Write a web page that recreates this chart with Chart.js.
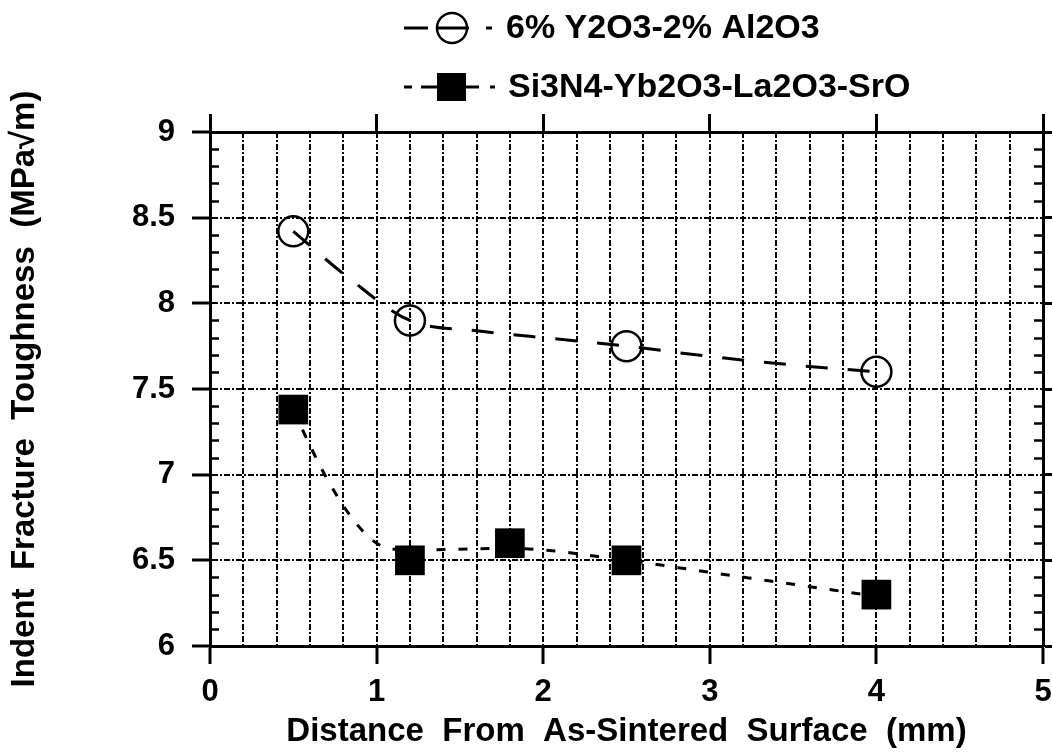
<!DOCTYPE html>
<html>
<head>
<meta charset="utf-8">
<script src="https://cdn.jsdelivr.net/npm/chart.js@4.4.0/dist/chart.umd.min.js"></script>
<style>
  html, body { margin: 0; padding: 0; background: #fff; }
</style>
</head>
<body>
<canvas id="myChart" width="1052" height="755"></canvas>
<script>
// measured toughness values
var distY2O3 = [0.5, 1.2, 2.5, 4.0];
var kY2O3 = [8.42, 7.90, 7.75, 7.60];
var distSrO = [0.5, 1.2, 1.8, 2.5, 4.0];
var kSrO = [7.38, 6.50, 6.60, 6.50, 6.30];

// dashed trend curves through the data
var fitY2O3X = [0.5, 0.83, 1.2, 1.6, 2.1, 2.5, 3.0, 3.5, 4.0];
var fitY2O3Y = [8.42, 8.15, 7.90, 7.84, 7.79, 7.75, 7.69, 7.64, 7.60];
var fitSrOX = [0.5, 0.6, 0.7, 0.85, 1.0, 1.2, 1.8, 2.5, 3.0, 3.5, 4.0];
var fitSrOY = [7.38, 7.17, 6.98, 6.75, 6.60, 6.56, 6.57, 6.50, 6.43, 6.36, 6.29];

var seriesNames = ['6% Y2O3-2% Al2O3', 'Si3N4-Yb2O3-La2O3-SrO'];

var xMin = 0, xMax = 5, xGridStep = 0.2, xLabelStep = 1;
var yMin = 6, yMax = 9, yStep = 0.5, yMinorStep = 0.1;

var FONT = '"Liberation Sans", Arial, Helvetica, sans-serif';
var GRID_DASH = [6, 2, 2, 2];

function pts(xs, ys) {
    return xs.map(function (x, i) { return { x: x, y: ys[i] }; });
}

function isWhole(v) {
    return Math.abs(v - Math.round(v)) < 1e-6;
}

// small inward ticks on both y borders
var minorTicks = {
    id: 'minorTicks',
    beforeDatasetsDraw: function (chart) {
        var ctx = chart.ctx, a = chart.chartArea, y = chart.scales.y;
        var n = Math.round((yMax - yMin) / yMinorStep);
        var per = Math.round(yStep / yMinorStep);
        ctx.save();
        ctx.strokeStyle = '#000';
        ctx.lineWidth = 2.5;
        ctx.beginPath();
        for (var i = 1; i < n; i++) {
            if (i % per === 0) continue;
            var py = Math.round(y.getPixelForValue(yMin + i * yMinorStep)) + 0.5;
            ctx.moveTo(a.left, py); ctx.lineTo(a.left + 9, py);
            ctx.moveTo(a.right - 9, py); ctx.lineTo(a.right, py);
        }
        ctx.stroke();
        ctx.restore();
    }
};

// two-row legend above the plot
var stackedLegend = {
    id: 'stackedLegend',
    afterDraw: function (chart) {
        var ctx = chart.ctx;
        ctx.save();
        ctx.strokeStyle = '#000';
        ctx.fillStyle = '#000';
        ctx.lineWidth = 3;

        // row 1: line, open circle, label
        var y1 = 28;
        ctx.beginPath();
        ctx.moveTo(404, y1); ctx.lineTo(428, y1);
        ctx.moveTo(437, y1); ctx.lineTo(469, y1);
        ctx.moveTo(486, y1); ctx.lineTo(492, y1);
        ctx.stroke();
        ctx.lineWidth = 2.5;
        ctx.beginPath();
        ctx.arc(452, y1, 15, 0, Math.PI * 2);
        ctx.stroke();

        // row 2: short dashes, filled square, label
        var y2 = 87;
        ctx.lineWidth = 3;
        ctx.beginPath();
        ctx.moveTo(404, y2); ctx.lineTo(412, y2);
        ctx.moveTo(421, y2); ctx.lineTo(437, y2);
        ctx.moveTo(466, y2); ctx.lineTo(479, y2);
        ctx.moveTo(490, y2); ctx.lineTo(495, y2);
        ctx.stroke();
        ctx.fillRect(437, y2 - 14, 29, 28);

        ctx.font = 'bold 34px ' + FONT;
        ctx.textBaseline = 'middle';
        ctx.textAlign = 'left';
        ctx.fillText(seriesNames[0], 506, y1 + 1);
        ctx.fillText(seriesNames[1], 508, y2 + 1);
        ctx.restore();
    }
};

var config = {
    type: 'scatter',
    data: {
        datasets: [{
            label: seriesNames[0] + ' fit',
            data: pts(fitY2O3X, fitY2O3Y),
            showLine: true,
            borderColor: '#000',
            borderWidth: 3,
            borderDash: [22, 20],
            cubicInterpolationMode: 'monotone',
            pointRadius: 0
        }, {
            label: seriesNames[1] + ' fit',
            data: pts(fitSrOX, fitSrOY),
            showLine: true,
            borderColor: '#000',
            borderWidth: 3,
            borderDash: [9, 13],
            cubicInterpolationMode: 'monotone',
            pointRadius: 0
        }, {
            label: seriesNames[0],
            data: pts(distY2O3, kY2O3),
            showLine: false,
            pointStyle: 'circle',
            pointRadius: 15,
            pointBorderWidth: 2.5,
            pointBorderColor: '#000',
            pointBackgroundColor: 'rgba(0,0,0,0)'
        }, {
            label: seriesNames[1],
            data: pts(distSrO, kSrO),
            showLine: false,
            pointStyle: 'rect',
            pointRadius: 21,
            pointBorderWidth: 0,
            pointBorderColor: '#000',
            pointBackgroundColor: '#000'
        }]
    },
    options: {
        responsive: false,
        animation: false,
        layout: { autoPadding: false, padding: { top: 114, left: 0, right: 0, bottom: 0 } },
        plugins: {
            legend: { display: false },
            tooltip: { enabled: false }
        },
        scales: {
            x: {
                type: 'linear',
                position: 'bottom',
                min: xMin,
                max: xMax,
                afterFit: function (s) {
                    s.height = 109;
                    s.paddingLeft = 0;
                    s.paddingRight = 0;
                },
                ticks: {
                    stepSize: xGridStep,
                    autoSkip: false,
                    maxRotation: 0,
                    padding: 10,
                    color: '#000',
                    font: { family: FONT, size: 31, weight: 'bold' },
                    callback: function (v) { return isWhole(v / xLabelStep) ? String(Math.round(v)) : ''; }
                },
                grid: {
                    color: '#000',
                    lineWidth: 2,
                    tickLength: 18,
                    tickWidth: 3,
                    tickColor: function (c) {
                        return c.tick && isWhole(c.tick.value / xLabelStep) ? '#000' : 'rgba(0,0,0,0)';
                    }
                },
                border: { display: true, color: '#000', width: 3, dash: GRID_DASH },
                title: {
                    display: true,
                    text: 'Distance  From  As-Sintered  Surface  (mm)',
                    color: '#000',
                    font: { family: FONT, size: 33, weight: 'bold' },
                    padding: { top: 0, bottom: 3 }
                }
            },
            x2: {
                type: 'linear',
                position: 'top',
                min: xMin,
                max: xMax,
                afterFit: function (s) {
                    s.height = 18;
                    s.paddingLeft = 0;
                    s.paddingRight = 0;
                },
                ticks: { display: false, stepSize: xLabelStep },
                grid: { drawOnChartArea: false, tickLength: 18, tickWidth: 3, tickColor: '#000' },
                border: { display: true, color: '#000', width: 3 }
            },
            y: {
                type: 'linear',
                position: 'left',
                min: yMin,
                max: yMax,
                afterFit: function (s) { s.width = 210; },
                ticks: {
                    stepSize: yStep,
                    padding: 17,
                    color: '#000',
                    font: { family: FONT, size: 31, weight: 'bold' },
                    callback: function (v) { return String(Math.round(v * 10) / 10); }
                },
                grid: {
                    color: '#000',
                    lineWidth: 2,
                    tickLength: 18,
                    tickWidth: 3,
                    tickColor: '#000'
                },
                border: { display: true, color: '#000', width: 3, dash: GRID_DASH },
                title: {
                    display: true,
                    text: 'Indent  Fracture  Toughness  (MPa√m)',
                    color: '#000',
                    font: { family: FONT, size: 33, weight: 'bold' },
                    padding: { top: 5, bottom: 0 }
                }
            },
            y2: {
                type: 'linear',
                position: 'right',
                min: yMin,
                max: yMax,
                afterFit: function (s) { s.width = 9; },
                ticks: { display: false, stepSize: yStep },
                grid: { drawOnChartArea: false, tickLength: 9, tickWidth: 3, tickColor: '#000' },
                border: { display: true, color: '#000', width: 3 }
            }
        }
    },
    plugins: [minorTicks, stackedLegend]
};

var myChart = new Chart(document.getElementById('myChart'), config);
</script>
</body>
</html>
